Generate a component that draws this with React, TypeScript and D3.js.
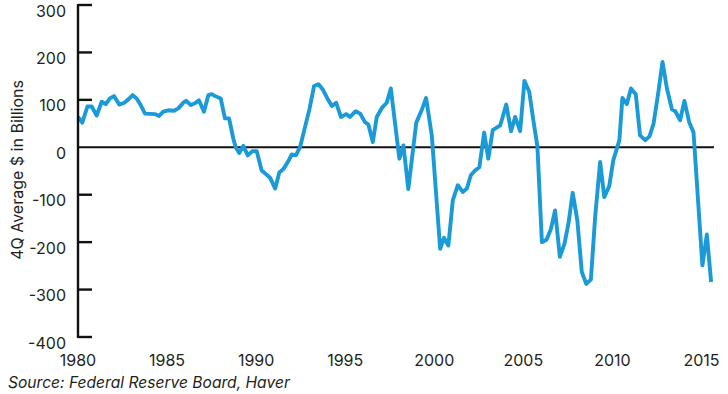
import React from "react";
import * as d3 from "d3";

const years: number[] = [
  1980.0, 1980.24, 1980.53, 1980.77, 1981.05, 1981.33, 1981.56, 1981.79, 1982.02, 1982.32,
  1982.6, 1982.83, 1983.07, 1983.29, 1983.52, 1983.76, 1984.32, 1984.55, 1984.79, 1985.07,
  1985.39, 1985.63, 1985.91, 1986.07, 1986.33, 1986.57, 1986.79, 1987.07, 1987.32, 1987.51,
  1987.69, 1988.01, 1988.25, 1988.48, 1988.72, 1988.85, 1989.05, 1989.28, 1989.53, 1989.79,
  1990.03, 1990.31, 1990.56, 1990.78, 1991.07, 1991.3, 1991.53, 1991.81, 1992.0, 1992.23,
  1992.47, 1992.74, 1992.99, 1993.25, 1993.5, 1993.74, 1994.0, 1994.25, 1994.49, 1994.76,
  1995.05, 1995.27, 1995.59, 1995.84, 1996.11, 1996.3, 1996.55, 1996.77, 1997.06, 1997.33,
  1997.56, 1998.04, 1998.27, 1998.54, 1998.99, 1999.29, 1999.54, 1999.86, 2000.33, 2000.55,
  2000.79, 2001.04, 2001.32, 2001.6, 2001.83, 2002.05, 2002.29, 2002.53, 2002.8, 2003.03,
  2003.28, 2003.7, 2004.04, 2004.31, 2004.54, 2004.82, 2005.06, 2005.33, 2005.56, 2005.79,
  2006.04, 2006.3, 2006.55, 2006.78, 2007.05, 2007.31, 2007.53, 2007.77, 2008.03, 2008.28,
  2008.53, 2008.79, 2009.03, 2009.31, 2009.54, 2009.82, 2010.05, 2010.28, 2010.39, 2010.56,
  2010.81, 2011.04, 2011.31, 2011.55, 2011.84, 2012.08, 2012.31, 2012.58, 2012.81, 2013.06,
  2013.34, 2013.53, 2013.8, 2014.04, 2014.31, 2014.55, 2014.8, 2015.05, 2015.3, 2015.54,
];

const values: number[] = [
  64, 52, 86, 86, 67, 96, 91, 103, 108, 90,
  94, 101, 110, 103, 89, 71, 70, 66, 75, 78,
  77, 82, 94, 98, 89, 93, 99, 75, 110, 112,
  108, 103, 61, 61, 18, 0, -12, 3, -17, -8,
  -8, -49, -57, -64, -87, -53, -46, -29, -15, -17,
  1, 42, 80, 129, 133, 122, 103, 87, 94, 64,
  70, 64, 76, 71, 53, 48, 11, 64, 83, 94,
  124, -24, 4, -88, 52, 78, 104, 25, -214, -191,
  -207, -112, -80, -94, -87, -59, -49, -42, 31, -24,
  36, 46, 90, 34, 64, 34, 140, 117, 57, 1,
  -200, -195, -172, -133, -231, -203, -161, -96, -154, -263,
  -288, -279, -147, -31, -105, -82, -27, 1, 15, 104,
  91, 124, 112, 25, 15, 23, 50, 117, 180, 124,
  80, 76, 57, 98, 53, 32, -108, -249, -184, -284,
];

const yTicks: number[] = [300, 200, 100, 0, -100, -200, -300, -400];
const xTicks: number[] = [1980, 1985, 1990, 1995, 2000, 2005, 2010, 2015];
const yTitle = "4Q Average $ in Billions";
const sourceNote = "Source: Federal Reserve Board, Haver";

export default function App() {
  const W = 728;
  const H = 394;
  const x = d3.scaleLinear().domain([1980, 2015]).range([78, 701.5]);
  const y = d3.scaleLinear().domain([-400, 300]).range([337, 5]);
  const pts: [number, number][] = years.map((yr, i) => [yr, values[i]]);
  const line = d3
    .line<[number, number]>()
    .x((d) => x(d[0]))
    .y((d) => y(d[1]))
    .curve(d3.curveLinear);
  const font = "Inter, 'Open Sans', sans-serif";
  const axisX = 78;
  return (
    <svg
      width={W}
      height={H}
      style={{ position: "absolute", left: 0, top: 0, background: "#fff" }}
    >
      <rect x={0} y={0} width={W} height={H} fill="#fff" />
      {/* zero line */}
      <line x1={axisX} x2={714} y1={y(0)} y2={y(0)} stroke="#111" strokeWidth={2} />
      {/* data line */}
      <path
        d={line(pts) || ""}
        fill="none"
        stroke="#1a9ad7"
        strokeWidth={3.9}
        strokeLinejoin="round"
        strokeLinecap="butt"
      />
      {/* y axis */}
      <line x1={axisX} x2={axisX} y1={y(300) - 1} y2={y(-400) + 1} stroke="#111" strokeWidth={2.4} />
      {yTicks.map((t) => (
        <g key={t}>
          {t !== 0 && (
            <line x1={axisX} x2={92} y1={y(t)} y2={y(t)} stroke="#111" strokeWidth={2.4} />
          )}
          <text
            x={66}
            y={y(t) + 11.5}
            textAnchor="end"
            fontFamily={font}
            fontSize={16}
            fill="#231f20"
          >
            {t}
          </text>
        </g>
      ))}
      {xTicks.map((t) => (
        <text
          key={t}
          x={x(t)}
          y={366}
          textAnchor="middle"
          fontFamily={font}
          fontSize={16}
          fill="#231f20"
        >
          {t}
        </text>
      ))}
      <text
        transform={`translate(23, 170) rotate(-90)`}
        textAnchor="middle"
        fontFamily={font}
        fontSize={16}
        fill="#231f20"
      >
        {yTitle}
      </text>
      <text
        x={8}
        y={388}
        fontFamily={font}
        fontSize={15.6}
        fontStyle="italic"
        fill="#231f20"
      >
        {sourceNote}
      </text>
    </svg>
  );
}
